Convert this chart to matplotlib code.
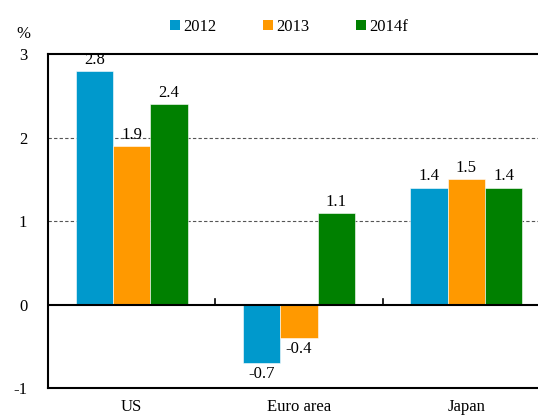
import matplotlib

matplotlib.use("Agg")
import matplotlib.pyplot as plt
import numpy as np
from matplotlib.patches import Patch

regions = ["US", "Euro area", "Japan"]
years = ["2012", "2013", "2014f"]
growth_2012 = [2.8, -0.7, 1.4]
growth_2013 = [1.9, -0.4, 1.5]
growth_2014f = [2.4, 1.1, 1.4]
yticks = [-1, 0, 1, 2, 3]

colors = ["#0099CC", "#FF9900", "#008000"]

plt.rcParams["font.family"] = ["Liberation Serif", "DejaVu Serif"]

fig = plt.figure(figsize=(5.38, 4.16), dpi=100)
# axes runs a little past the right edge of the figure, as in the original
ax = fig.add_axes([0.0892, 0.0673, 0.933, 0.802])

x = np.arange(len(regions))
w = 0.223
series = [growth_2012, growth_2013, growth_2014f]
for i, (vals, c) in enumerate(zip(series, colors)):
    pos = x + (i - 1) * w
    ax.bar(pos, vals, width=w, color=c, edgecolor="white", linewidth=0.4, zorder=3)
    for p, v in zip(pos, vals):
        off = 0.04 if v >= 0 else -0.04
        ax.text(p, v + off, f"{v:.1f}", ha="center",
                va="bottom" if v >= 0 else "top", fontsize=12, zorder=4)

ax.set_xlim(-0.5, 2.5)
ax.set_ylim(-1, 3)
ax.set_yticks(yticks)
ax.set_yticklabels([str(t) for t in yticks], fontsize=12)
ax.tick_params(axis="y", length=0, pad=15)
ax.set_xticks(x)
ax.set_xticklabels(regions, fontsize=12)
ax.tick_params(axis="x", length=0, pad=8)

for g in [1, 2]:
    ax.axhline(g, color="#555555", linestyle=(0, (3, 2)), linewidth=0.8, zorder=1)
ax.axhline(0, color="black", linewidth=1.5, zorder=5)
# small category separators on the zero line
for s in [0.5, 1.5]:
    ax.plot([s, s], [0, 0.07], color="black", linewidth=1.2, zorder=5)

for side in ["left", "top", "bottom"]:
    ax.spines[side].set_linewidth(1.5)
ax.spines["right"].set_visible(False)

fig.text(0.043, 0.918, "%", ha="center", va="center", fontsize=12)

handles = [Patch(facecolor=c, edgecolor="none") for c in colors]
fig.legend(handles, years, loc="center", bbox_to_anchor=(0.537, 0.935), ncol=3,
           frameon=False, fontsize=12, handlelength=0.6, handleheight=0.6,
           handletextpad=0.2, columnspacing=2.8)

fig.savefig("out.png", dpi=100)
